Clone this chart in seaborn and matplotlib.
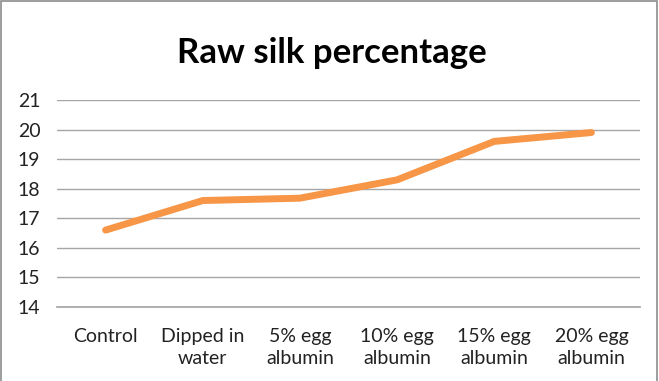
import matplotlib
matplotlib.use("Agg")
import matplotlib.pyplot as plt
import seaborn as sns
import pandas as pd
from matplotlib.patches import Rectangle

categories = ["Control", "Dipped in\nwater", "5% egg\nalbumin", "10% egg\nalbumin",
              "15% egg\nalbumin", "20% egg\nalbumin"]
values = [16.6, 17.6, 17.68, 18.3, 19.6, 19.9]
yticks = [14, 15, 16, 17, 18, 19, 20, 21]
title = "Raw silk percentage"

sns.set_theme(style="white")
plt.rcParams['font.family'] = ['Lato', 'DejaVu Sans']

df = pd.DataFrame({"cat": categories, "val": values, "x": range(len(categories))})

fig = plt.figure(figsize=(6.59, 3.81), dpi=100)
ax = fig.add_axes([57/659, 1 - 307/381, (640-57)/659, (307-100)/381])
sns.lineplot(data=df, x="x", y="val", ax=ax, color="#F79646", linewidth=5,
             solid_capstyle="round", solid_joinstyle="round")
ax.set_xlim(-0.5, len(categories) - 0.5)
ax.set_ylim(14, 21)
ax.set_yticks(yticks)
ax.set_yticklabels([str(t) for t in yticks], fontsize=14, color="#222222")
ax.set_xticks(range(len(categories)))
ax.set_xticklabels(categories, fontsize=14, color="#222222", linespacing=1.35)
ax.set_xlabel("")
ax.set_ylabel("")
ax.grid(axis="y", color="#a6a6a6", linewidth=1)
ax.set_axisbelow(True)
for s in ["top", "right", "left"]:
    ax.spines[s].set_visible(False)
ax.spines["bottom"].set_color("#a6a6a6")
ax.tick_params(axis="both", length=0)
ax.tick_params(axis="x", pad=15)
ax.tick_params(axis="y", pad=12)

fig.text(332/659, 1 - 53/381, title, ha="center", va="center", fontsize=25,
         fontweight="bold", color="#000000")
fig.patches.append(Rectangle((1/659, -0.05), 656/659, 1.05 - 1/381, transform=fig.transFigure,
                             fill=False, edgecolor="#8c8c8c", linewidth=1.2))
fig.savefig("out.png", dpi=100)
